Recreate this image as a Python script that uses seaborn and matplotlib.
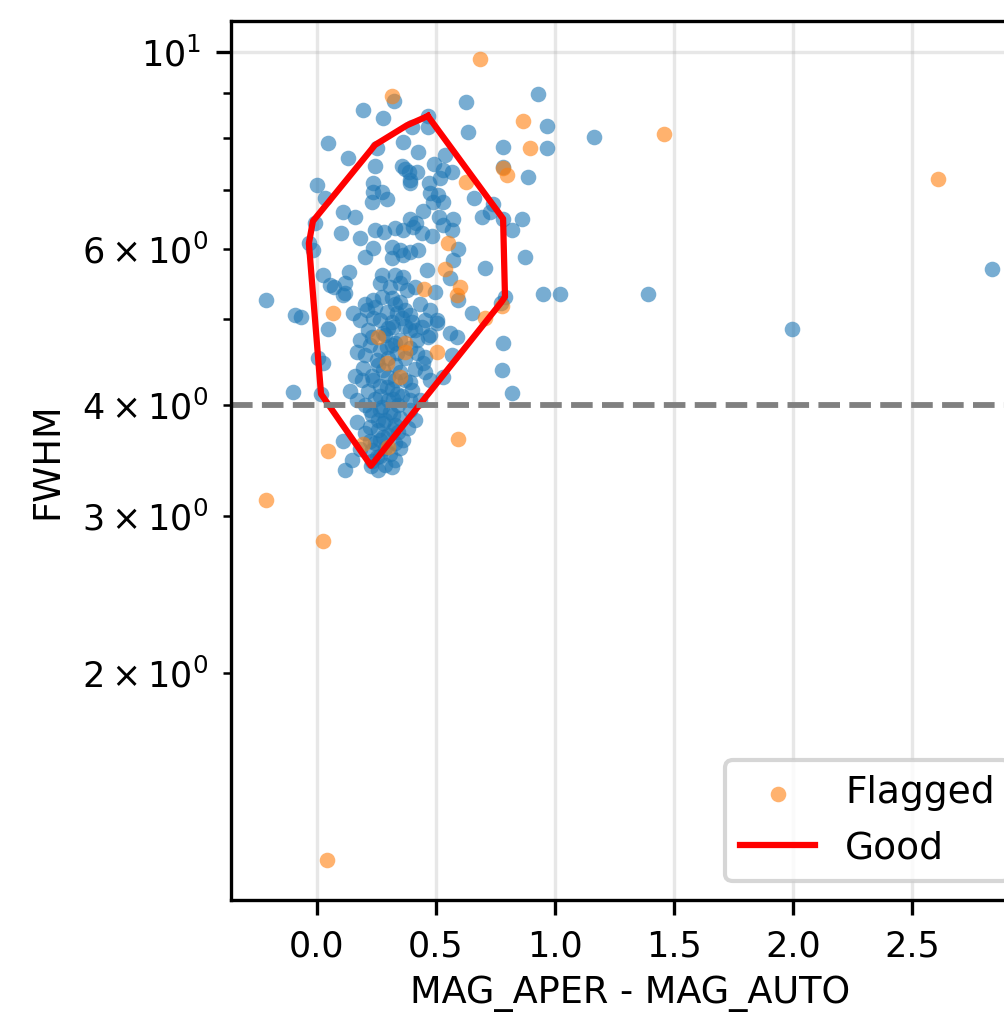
import matplotlib
matplotlib.use("Agg")
import matplotlib.pyplot as plt
import seaborn as sns

# "good" (blue) sources: MAG_APER - MAG_AUTO vs FWHM
good_x = [0.929, 0.626, 0.193, 0.277, 0.324, 0.466, 0.399, 0.466, 0.634, 0.966,
          1.164, 0.046, 0.361, 0.252, 0.782, 0.966, 0.424, 0.130, 0.538, 0.244,
          0.357, 0.492, 0.387, 0.420, 0.529, 0.567, 0.782, 0.887, 0.000, 0.235,
          0.391, 0.471, 0.517, 0.034, 0.235, 0.273, 0.231, 0.294, 0.475, 0.508,
          0.487, 0.529, 0.660, 0.739, 0.445, 0.109, 0.160, 0.391, 0.416, 0.513,
          0.571, 0.693, 0.727, 0.861, 0.819, 0.782, -0.008, 0.101, 0.181, 0.244,
          0.282, 0.328, 0.361, 0.403, 0.441, 0.483, 0.529, 0.567, -0.034, -0.017,
          0.235, 0.315, 0.349, 0.391, 0.424, 0.592, 0.202, 0.315, 0.361, 0.571,
          0.874, 0.706, 0.025, 0.134, 0.273, 0.328, 0.361, 0.462, 0.559, 0.055,
          0.071, 0.118, 0.265, 0.307, 0.349, 0.378, 0.412, 0.496, 0.109, 0.235,
          0.273, 0.315, 0.349, 0.790, 0.773, 0.950, 1.021, -0.214, -0.092, -0.067,
          0.151, 0.210, 0.294, 0.336, 0.391, 0.504, 0.651, 0.046, 0.235, 0.504,
          0.559, 0.588, 0.782, 0.777, 0.819, -0.101, 0.004, 0.025, 0.017, 0.181,
          0.168, 0.193, 0.189, 0.235, 0.277, 0.319, 0.391, 0.420, 0.441, 0.294,
          0.336, 0.420, 0.445, 0.252, 0.294, 0.336, 0.391, 0.399, 0.475, 0.529,
          0.567, 0.168, 0.223, 0.273, 0.319, 0.168, 0.223, 0.277, 0.319, 0.109,
          0.223, 0.265, 0.147, 0.118, 0.227, 0.252, 0.118, 0.370, 0.391, 0.592,
          0.466,
          0.202, 0.244, 0.328, 0.370, 0.433, 0.475, 0.265, 0.315, 0.357, 0.399,
          0.454, 0.214, 0.286, 0.349, 0.412, 0.475, 0.223, 0.265, 0.315, 0.370,
          0.328, 0.277, 0.349, 0.412, 0.454, 0.231, 0.298, 0.265, 0.315, 0.357,
          0.244, 0.298, 0.340, 0.391, 0.265, 0.307, 0.349, 0.231, 0.286, 0.256,
          0.298, 0.340, 0.382, 0.244, 0.286, 0.328, 0.265, 0.307, 0.349, 0.231,
          0.286, 0.328,
          0.181, 0.298, 0.370, 0.231, 0.328, 0.391, 0.202, 0.298, 0.256, 0.370,
          0.328, 0.214, 0.265, 0.319, 0.202, 0.391, 0.256, 0.328, 0.202, 0.277,
          0.361, 0.231, 0.315, 0.256, 0.181, 0.412, 0.433, 0.139, 0.160, 0.454,
          1.391, 1.996, 2.836]
good_y = [8.97, 8.79, 8.61, 8.43, 8.81, 8.47, 8.23, 8.23, 8.13, 8.25,
          8.02, 7.90, 7.92, 7.80, 7.82, 7.80, 7.72, 7.60, 7.66, 7.45,
          7.45, 7.48, 7.33, 7.33, 7.37, 7.33, 7.43, 7.23, 7.09, 7.12,
          7.12, 7.12, 7.21, 6.85, 6.96, 6.96, 6.78, 6.83, 6.94, 6.90,
          6.78, 6.78, 6.85, 6.75, 6.63, 6.60, 6.52, 6.49, 6.42, 6.52,
          6.49, 6.52, 6.60, 6.49, 6.30, 6.49, 6.42, 6.25, 6.17, 6.30,
          6.27, 6.34, 6.30, 6.35, 6.25, 6.20, 6.39, 6.30, 6.09, 5.98,
          6.01, 6.03, 5.98, 5.95, 5.98, 6.00, 5.88, 5.86, 5.91, 5.83,
          5.88, 5.71, 5.61, 5.66, 5.61, 5.61, 5.58, 5.68, 5.57, 5.47,
          5.44, 5.50, 5.50, 5.44, 5.50, 5.40, 5.44, 5.37, 5.33, 5.26,
          5.30, 5.28, 5.23, 5.30, 5.22, 5.34, 5.34, 5.26, 5.06, 5.03,
          5.08, 5.12, 5.09, 5.08, 5.05, 4.99, 5.08, 4.87, 5.02, 4.95,
          4.83, 4.77, 4.70, 4.38, 4.13, 4.14, 4.52, 4.46, 4.12, 4.74,
          4.59, 4.41, 4.27, 4.27, 4.82, 4.90, 4.86, 4.74, 4.90, 4.65,
          4.58, 4.58, 4.46, 4.50, 4.19, 4.12, 4.25, 4.16, 4.27, 4.30,
          4.56, 4.06, 3.95, 3.98, 3.90, 3.83, 3.78, 3.82, 3.75, 3.65,
          3.65, 3.66, 3.47, 3.38, 3.42, 3.50, 5.35, 7.39, 7.18, 5.26,
          4.77,
          5.20, 5.16, 5.20, 5.12, 5.20, 5.12, 4.99, 4.96, 5.02, 4.96,
          4.99, 4.86, 4.80, 4.74, 4.86, 4.80, 4.68, 4.62, 4.68, 4.52,
          4.44, 4.38, 4.36, 4.40, 4.36, 4.32, 4.30, 4.21, 4.17, 4.10,
          4.07, 4.06, 4.00, 4.06, 3.95, 3.93, 3.87, 3.90, 3.85, 3.75,
          3.70, 3.73, 3.77, 3.63, 3.58, 3.63, 3.51, 3.53, 3.58, 3.46,
          3.43, 3.47,
          4.99, 4.89, 4.92, 4.77, 4.70, 4.64, 4.56, 4.52, 4.44, 4.27,
          4.27, 4.15, 4.10, 4.07, 4.00, 3.95, 3.85, 3.80, 3.72, 3.68,
          3.66, 3.56, 3.41, 3.38, 3.57, 3.85, 4.06, 4.15, 4.32, 4.54,
          5.34, 4.87, 5.69]

# flagged (orange) sources
flag_x = [0.685, 0.315, 0.866, 0.895, 0.782, 0.798, 0.626, 0.550, 0.538, 0.450,
          0.601, 0.588, 0.067, 0.706, 0.777, 0.256, 0.370, 0.370, 0.504, 0.294,
          0.349, 0.193, 0.298, 0.046, 0.592, -0.214, 0.025, 0.042, 1.458, 2.609]
flag_y = [9.83, 8.92, 8.36, 7.80, 7.41, 7.27, 7.14, 6.09, 5.69, 5.41,
          5.43, 5.33, 5.08, 5.02, 5.18, 4.77, 4.70, 4.59, 4.59, 4.46,
          4.31, 3.62, 3.59, 3.55, 3.67, 3.13, 2.81, 1.231, 8.08, 7.19]

# "Good" selection polygon
hull_x = [0.466, 0.378, 0.244, -0.017, -0.034, 0.017, 0.227, 0.773, 0.790, 0.782, 0.466]
hull_y = [8.47, 8.27, 7.86, 6.45, 6.09, 4.12, 3.42, 5.22, 5.30, 6.49, 8.47]

fwhm_cut = 4.0

DPI = 300
fig = plt.figure(figsize=(1004 / DPI, 1012 / DPI), dpi=DPI)
ax = fig.add_axes([0.2299, 0.1107, 0.7946, 0.8686])

sns.scatterplot(x=good_x, y=good_y, color="#1f77b4", alpha=0.6, s=14,
                linewidth=0, ax=ax, legend=False)
sns.scatterplot(x=flag_x, y=flag_y, color="#ff7f0e", alpha=0.6, s=14,
                linewidth=0, ax=ax, label="Flagged")
ax.plot(hull_x, hull_y, color="red", lw=1.5, label="Good")
ax.axhline(fwhm_cut, color="gray", ls="--", lw=1.4)

ax.set_yscale("log")
ax.set_xlim(-0.362, 2.99)
ax.set_ylim(1.109, 10.84)
ax.grid(True, alpha=0.3)
ax.set_axisbelow(True)

ax.set_xlabel("MAG_APER - MAG_AUTO", fontsize=8.8, labelpad=2.8)
ax.set_ylabel("FWHM", fontsize=8.8)
ax.tick_params(axis="both", which="both", labelsize=8.4)
ax.legend(loc="lower right", fontsize=9)

fig.savefig("out.png", dpi=DPI)
